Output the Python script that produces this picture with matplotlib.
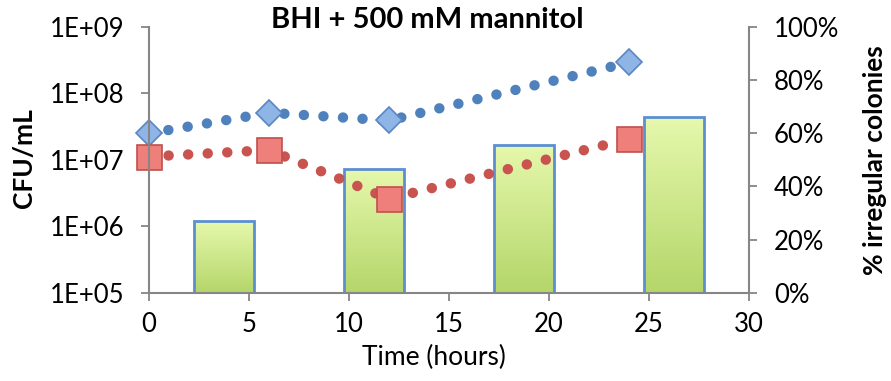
import numpy as np
import matplotlib
matplotlib.use('Agg')
import matplotlib.pyplot as plt
from matplotlib.ticker import FixedLocator, NullLocator

plt.rcParams['font.family'] = ['Lato', 'DejaVu Sans']

# data
time_h = [0, 6, 12, 24]
cfu_total = [2.5e7, 5.1e7, 3.9e7, 2.9e8]      # blue diamonds
cfu_irregular = [1.12e7, 1.4e7, 2.6e6, 2.06e7]  # red squares
bar_x = [3.75, 11.25, 18.75, 26.25]
pct_irregular = [27.0, 46.4, 55.6, 66.0]

log_ticks = [1e5, 1e6, 1e7, 1e8, 1e9]
log_labels = ['1E+05', '1E+06', '1E+07', '1E+08', '1E+09']
pct_ticks = [0, 20, 40, 60, 80, 100]
pct_labels = ['0%', '20%', '40%', '60%', '80%', '100%']
x_ticks = [0, 5, 10, 15, 20, 25, 30]

grey = '#868686'

fig = plt.figure(figsize=(8.91, 3.81), dpi=100)
ax = fig.add_axes([149/891, 1-293/381, 600/891, 266.3/381])
ax2 = ax.twinx()

# bars on the secondary axis, drawn behind the lines
bars = ax2.bar(bar_x, pct_irregular, width=3.0, facecolor='none',
               edgecolor='#5b8fd0', linewidth=2, zorder=3)
grad = np.linspace(0, 1, 100).reshape(-1, 1)
cmap = matplotlib.colors.LinearSegmentedColormap.from_list(
    'g', ['#b4d66a', '#e6f8ac'])
for b in bars:
    x0, w, h = b.get_x(), b.get_width(), b.get_height()
    im = ax2.imshow(grad, cmap=cmap, origin='lower', aspect='auto',
                    extent=[x0, x0 + w, 0, h], zorder=2)
    im.set_clip_path(b)
ax2.set_ylim(0, 100)
ax2.set_xlim(0, 30)
ax2.yaxis.set_major_locator(FixedLocator(pct_ticks))
ax2.set_yticklabels(pct_labels)

ax.set_zorder(ax2.get_zorder() + 1)
ax.patch.set_visible(False)

dots = (0, (0.01, 1.87))
ax.plot(time_h, cfu_total, color='#4f81bd', lw=7.5, linestyle=dots,
        dash_capstyle='round', marker='D', ms=13.5, mfc='#8fb4e6',
        mec='#5a86c4', mew=1.2, clip_on=False)
ax.plot(time_h, cfu_irregular, color='#c9534f', lw=7.5, linestyle=dots,
        dash_capstyle='round', marker='s', ms=18, mfc='#ee7f7a',
        mec='#c0504d', mew=1.2, clip_on=False)

ax.set_yscale('log')
ax.set_ylim(1e5, 1e9)
ax.yaxis.set_major_locator(FixedLocator(log_ticks))
ax.yaxis.set_minor_locator(NullLocator())
ax.set_yticklabels(log_labels)
ax.set_xlim(0, 30)
ax.set_xticks(x_ticks)

for a in (ax, ax2):
    for s in a.spines.values():
        s.set_color(grey)
        s.set_linewidth(1.5)
    a.spines['top'].set_visible(False)
    a.tick_params(colors=grey, labelcolor='black', labelsize=18.5,
                  length=6, width=1.3, direction='out', pad=12)
ax.spines['right'].set_visible(False)
ax2.spines['left'].set_visible(False)
ax2.spines['bottom'].set_visible(False)
ax.tick_params(axis='x', pad=8)

fig.text(427/891, 1-20/381, 'BHI + 500 mM mannitol', ha='center',
         va='center', fontsize=21, fontweight='bold')
fig.text(24/891, 1-158/381, 'CFU/mL', rotation=90, ha='center',
         va='center', fontsize=19, fontweight='bold')
fig.text(875/891, 1-160/381, '% irregular colonies', rotation=90,
         ha='center', va='center', fontsize=19, fontweight='bold')
fig.text(434/891, 1-357/381, 'Time (hours)', ha='center', va='center',
         fontsize=19)

fig.savefig('out.png', dpi=100)
